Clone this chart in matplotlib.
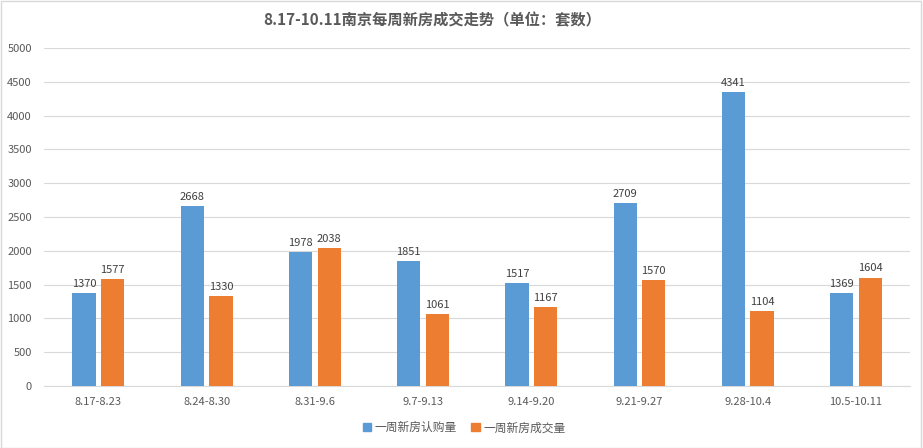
import matplotlib
matplotlib.use("Agg")
import matplotlib.pyplot as plt
import numpy as np

plt.rcParams['font.family'] = ['Noto Sans CJK SC', 'DejaVu Sans']

categories = ["8.17-8.23", "8.24-8.30", "8.31-9.6", "9.7-9.13", "9.14-9.20", "9.21-9.27", "9.28-10.4", "10.5-10.11"]
subscribed = [1370, 2668, 1978, 1851, 1517, 2709, 4341, 1369]
deals = [1577, 1330, 2038, 1061, 1167, 1570, 1104, 1604]
series_names = ["一周新房认购量", "一周新房成交量"]
title = "8.17-10.11南京每周新房成交走势（单位：套数）"

blue = "#5B9BD5"
orange = "#ED7D31"
txt = "#595959"

fig = plt.figure(figsize=(9.23, 4.48), dpi=100)
ax = fig.add_axes([0.048, 0.1384, 0.938, 0.7546])

x = np.arange(len(categories))
w = 0.215
off = 0.132
b1 = ax.bar(x - off, subscribed, w, color=blue, label=series_names[0], zorder=3)
b2 = ax.bar(x + off, deals, w, color=orange, label=series_names[1], zorder=3)

for bars, vals in ((b1, subscribed), (b2, deals)):
    for r, v in zip(bars, vals):
        ax.text(r.get_x() + r.get_width() / 2, v + 60, str(v), ha='center', va='bottom',
                fontsize=8, color="#404040")

ax.set_ylim(0, 5000)
ax.set_xlim(-0.5, len(categories) - 0.5)
ax.set_yticks(np.arange(0, 5001, 500))
ax.set_xticks(x)
ax.set_xticklabels(categories)
ax.tick_params(axis='both', length=0, labelsize=8, colors=txt)
ax.tick_params(axis='y', pad=9)
ax.tick_params(axis='x', pad=8)
ax.yaxis.grid(True, color="#D9D9D9", linewidth=0.8, zorder=0)
for s in ['top', 'right', 'left']:
    ax.spines[s].set_visible(False)
ax.spines['bottom'].set_color("#D9D9D9")

fig.text(0.468, 0.955, title, ha='center', va='center', fontsize=11, fontweight='bold', color="#595959")

handles = [plt.Rectangle((0, 0), 1, 1, color=blue), plt.Rectangle((0, 0), 1, 1, color=orange)]
fig.legend(handles, series_names, loc='center', bbox_to_anchor=(0.503, 0.045), ncol=2, frameon=False,
           fontsize=8.5, handlelength=0.7, handleheight=0.7, handletextpad=0.3, columnspacing=1.2,
           labelcolor=txt)

border = plt.Rectangle((0.001, 0.001), 0.997, 0.997, transform=fig.transFigure, fill=False,
                       edgecolor="#D9D9D9", linewidth=1)
fig.patches.append(border)

fig.savefig("out.png", dpi=100)
